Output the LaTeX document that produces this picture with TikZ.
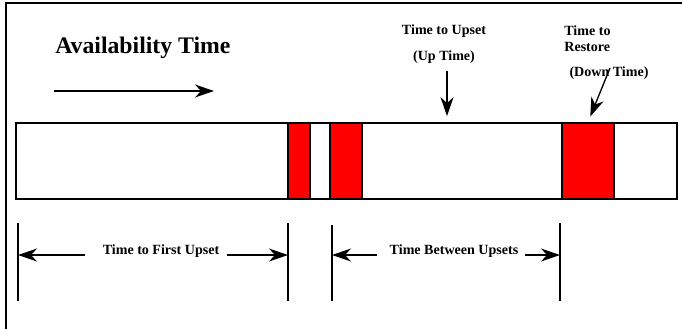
\documentclass[tikz,border=0pt]{standalone}
\usepackage{fontspec}
\setmainfont{Liberation Serif}
\usepackage{xcolor}
\usetikzlibrary{arrows.meta,positioning,fit}
\definecolor{upsetred}{HTML}{FF0000}
\tikzset{
  outer/.style   ={line width=1.1pt,draw=black},
  strip/.style   ={draw=black,line width=1pt,fill=white,inner sep=0pt},
  upset/.style   ={draw=black,line width=1pt,fill=upsetred,inner sep=0pt},
  txt/.style     ={font=\fontsize{8}{9.2}\selectfont\bfseries,inner sep=0pt,align=center},
  headline/.style={font=\fontsize{13.5}{16}\selectfont\bfseries,inner sep=0pt},
  bound/.style   ={line width=0.9pt,draw=black},
  flow/.style    ={-{Stealth[length=3.8mm,width=2.6mm,inset=1.2mm]},line width=0.75pt,draw=black}
}
\begin{document}
\begin{tikzpicture}[x=0.02cm,y=-0.02cm]
        \useasboundingbox (0,0) rectangle (682,328);
        \draw[outer] (6,340) |- (690,3);
        % time line with the upsets
        \node[strip,fit={(16,123) (677,199)}] (line) {};
        \node[upset,fit={(288,123) (310,199)}] (up1) {};
        \node[upset,fit={(330,123) (362,199)}] (up2) {};
        \node[upset,fit={(562,123) (614,199)}] (up3) {};
        % heading
        \node[headline,anchor=west] (avail) at (55,48) {Availability Time};
        \coordinate (av1) at (54,91);
        \coordinate (av2) at (214,91);
        \draw[flow] (av1) -- (av2);
        % up time
        \node[txt] (upset) at (444,31) {Time to Upset};
        \node[txt] (uptime) at (444,57) {(Up Time)};
        \coordinate (ut) at (447,71);
        \draw[flow,shorten >=3.4pt] (ut) -- (ut |- line.north);
        % down time
        \node[txt,align=left,anchor=west] (restore) at (564,39) {Time to\\Restore};
        \node[txt] (downtime) at (609,73) {(Down Time)};
        \coordinate (dt) at (610,68);
        \draw[flow,shorten >=3.4pt] (dt) -- (up3.north);
        % intervals
        \coordinate (k1) at (18,223);
        \coordinate (k2) at (288,223);
        \coordinate (k3) at (332,225);
        \coordinate (k4) at (560,223);
        \foreach \k in {k1,k2,k3,k4}
          \draw[bound] (\k) -- (\k |- 0,301);
        \node[txt] (first) at (161,251) {Time to First Upset};
        \coordinate (f1) at (85,255);
        \coordinate (f2) at (227,255);
        \draw[flow] (f1) -- (f1 -| k1);
        \draw[flow] (f2) -- (f2 -| k2);
        \node[txt] (between) at (454,251) {Time Between Upsets};
        \coordinate (b1) at (377,255);
        \coordinate (b2) at (525,255);
        \draw[flow] (b1) -- (b1 -| k3);
        \draw[flow] (b2) -- (b2 -| k4);
      \end{tikzpicture}
\end{document}
